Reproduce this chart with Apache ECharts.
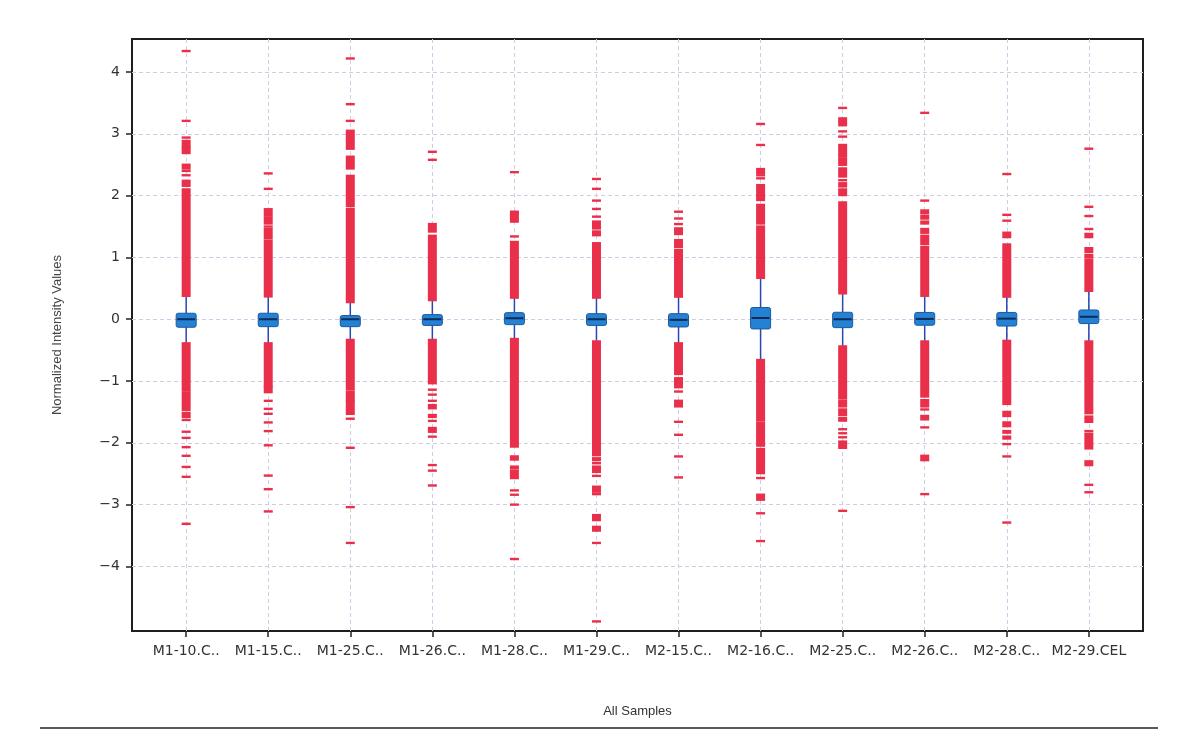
<!DOCTYPE html>
<html>
<head>
<meta charset="utf-8">
<title>All Samples</title>
<script src="https://cdn.jsdelivr.net/npm/echarts@6.0.0/dist/echarts.min.js"></script>
<style>
html, body {margin:0; padding:0; background:#fff;}
#chart {width:1200px; height:742px;}
</style>
</head>
<body>
<div id="chart"></div>
<script>
var categories = ['M1-10.C..','M1-15.C..','M1-25.C..','M1-26.C..','M1-28.C..','M1-29.C..','M2-15.C..','M2-16.C..','M2-25.C..','M2-26.C..','M2-28.C..','M2-29.CEL'];
var yTicks = [-4,-3,-2,-1,0,1,2,3,4];

/* box : whisker low, q1, median, q3, whisker high */
var whiskerLow  = [-0.39,-0.39,-0.33,-0.33,-0.31,-0.35,-0.39,-0.66,-0.44,-0.36,-0.35,-0.36];
var q1          = [-0.13,-0.12,-0.12,-0.10,-0.087,-0.10,-0.125,-0.157,-0.136,-0.097,-0.11,-0.07];
var median      = [0.0,0.0,0.0,0.0,0.016,0.0,-0.01,0.02,0.0,0.005,0.01,0.04];
var q3          = [0.097,0.097,0.06,0.075,0.107,0.09,0.09,0.19,0.113,0.11,0.11,0.15];
var whiskerHigh = [0.38,0.37,0.27,0.31,0.35,0.35,0.36,0.67,0.42,0.38,0.37,0.45];

/* outliers : single value = one dash, [lo, hi] = run of dashes */
var upperOutliers = [
    [4.34,3.21,2.94,[2.79,2.885],[2.69,2.77],[2.44,2.50],2.40,2.33,[2.16,2.24],[0.38,2.10]],
    [2.36,2.11,[1.69,1.78],[1.55,1.65],1.50,[1.31,1.46],[0.37,1.27]],
    [4.22,3.48,3.21,[2.90,3.05],[2.76,2.87],[2.44,2.63],[1.83,2.32],[0.28,1.78]],
    [2.71,2.58,[1.42,1.54],[0.31,1.35]],
    [2.38,[1.715,1.74],[1.58,1.69],1.34,[0.35,1.25]],
    [2.27,2.11,1.92,1.785,1.66,[1.47,1.58],[1.36,1.42],[0.35,1.23]],
    [1.74,1.63,1.54,[1.38,1.47],[1.17,1.28],[0.366,1.12]],
    [3.16,2.82,[2.37,2.43],2.33,2.28,[2.01,2.17],[1.93,1.98],[1.55,1.85],[0.67,1.50]],
    [3.42,[3.14,3.25],3.04,2.955,[2.63,2.82],[2.50,2.59],[2.31,2.44],2.25,[2.15,2.20],[2.01,2.10],[0.42,1.89]],
    [3.34,1.92,[1.715,1.76],[1.63,1.67],[1.55,1.58],[1.40,1.46],[1.22,1.35],[0.38,1.17]],
    [2.35,1.69,1.595,[1.33,1.40],[0.366,1.21]],
    [2.76,1.82,1.67,1.46,[1.33,1.38],[1.09,1.15],[1.00,1.04],[0.46,0.96]]
];
var lowerOutliers = [
    [[-1.155,-0.39],[-1.47,-1.19],[-1.58,-1.52],-1.63,-1.82,-1.92,-2.07,-2.21,-2.39,-2.55,-3.31],
    [[-1.08,-0.39],[-1.18,-1.10],-1.32,-1.45,-1.53,-1.67,-1.81,-2.04,-2.53,-2.75,-3.11],
    [[-1.13,-0.335],[-1.31,-1.17],[-1.50,-1.33],-1.53,-1.61,-2.08,-3.04,-3.62],
    [[-1.035,-0.335],-1.14,-1.22,-1.32,[-1.44,-1.39],[-1.58,-1.55],-1.645,[-1.82,-1.76],-1.90,-2.36,-2.45,-2.69],
    [[-1.52,-0.32],[-1.87,-1.55],[-2.06,-1.90],[-2.27,-2.22],[-2.41,-2.385],[-2.57,-2.45],-2.77,-2.84,-3.00,-3.88],
    [[-2.01,-0.36],[-2.20,-2.03],[-2.28,-2.25],-2.33,[-2.47,-2.385],-2.535,[-2.79,-2.71],-2.83,[-3.25,-3.17],[-3.42,-3.36],-3.62,-4.89],
    [[-0.885,-0.39],[-1.10,-0.955],-1.17,[-1.41,-1.32],-1.66,-1.87,-2.22,-2.56],
    [[-1.63,-0.66],[-2.045,-1.67],[-2.20,-2.10],[-2.30,-2.22],[-2.49,-2.33],-2.57,[-2.92,-2.84],-3.14,-3.59],
    [[-1.28,-0.44],[-1.41,-1.32],[-1.55,-1.46],[-1.64,-1.60],-1.78,-1.845,-1.91,[-2.08,-1.98],-3.10],
    [[-1.10,-0.36],[-1.25,-1.13],[-1.41,-1.31],-1.46,[-1.62,-1.565],-1.75,[-2.28,-2.21],-2.83],
    [[-1.37,-0.35],[-1.565,-1.50],[-1.73,-1.67],[-1.835,-1.81],[-1.93,-1.90],-2.02,-2.22,-3.29],
    [[-1.52,-0.36],[-1.66,-1.575],-1.81,[-2.09,-1.855],[-2.36,-2.30],-2.68,-2.80]
];

var RED = '#ea2f4b', GRID = '#cdcde6';

function buildBoxData(){
    var out = [];
    for(var i=0; i<categories.length; i++){
        out.push([i, whiskerLow[i], q1[i], median[i], q3[i], whiskerHigh[i]]);
    }
    return out;
}
function buildOutlierData(){
    var out = [], groups = [upperOutliers, lowerOutliers];
    for(var g=0; g<groups.length; g++){
        for(var i=0; i<groups[g].length; i++){
            groups[g][i].forEach(function(r){
                if(typeof r == 'number'){ out.push([i, r, r]); }
                else{ out.push([i, r[0], r[1]]); }
            });
        }
    }
    return out;
}

function renderBox(params, api){
    var x = api.value(0), w = 20;
    var pLo = api.coord([x, api.value(1)]);
    var pQ1 = api.coord([x, api.value(2)]);
    var pMed = api.coord([x, api.value(3)]);
    var pQ3 = api.coord([x, api.value(4)]);
    var pHi = api.coord([x, api.value(5)]);
    var wStyle = {stroke:'#2b47b5', lineWidth:1.5};
    return {
        type:'group',
        children:[
            {type:'line', shape:{x1:pLo[0], y1:pLo[1], x2:pQ1[0], y2:pQ1[1]}, style:wStyle},
            {type:'line', shape:{x1:pQ3[0], y1:pQ3[1], x2:pHi[0], y2:pHi[1]}, style:wStyle},
            {type:'rect', shape:{x:pQ3[0]-w/2, y:pQ3[1], width:w, height:pQ1[1]-pQ3[1], r:2}, style:{fill:'#2581d3', stroke:'#1a5a9c', lineWidth:1}},
            {type:'line', shape:{x1:pMed[0]-w/2+1, y1:pMed[1], x2:pMed[0]+w/2-1, y2:pMed[1]}, style:{stroke:'#0d2c58', lineWidth:2}}
        ]
    };
}

function renderRun(params, api){
    var x = api.value(0);
    var top = api.coord([x, api.value(2)]);
    var bot = api.coord([x, api.value(1)]);
    var h = Math.max(bot[1]-top[1], 0) + 2.4;
    return {type:'rect', shape:{x:top[0]-4.5, y:top[1]-1.2, width:9, height:h}, style:{fill:RED}};
}

var xTickValues = categories.map(function(c, i){ return i; });

var myChart = echarts.init(document.getElementById('chart'));
var option = {
    backgroundColor:'#fff',
    animation:false,
    grid:{left:132, top:39, right:57, bottom:111, show:true, borderColor:'#1e1e1e', borderWidth:2, backgroundColor:'transparent'},
    xAxis:{
        type:'value', min:-0.66, max:11.66, position:'bottom',
        name:'All Samples', nameLocation:'middle', nameGap:74,
        nameTextStyle:{color:'#333', fontFamily:'Liberation Sans', fontSize:13},
        axisLine:{show:false, onZero:false},
        axisTick:{show:true, length:6, customValues:xTickValues, lineStyle:{color:'#222', width:1.5}},
        axisLabel:{show:true, margin:13, customValues:xTickValues, color:'#333', fontFamily:'DejaVu Sans', fontSize:14,
            formatter:function(v){ return categories[Math.round(v)]; }},
        splitLine:{show:true, lineStyle:{color:GRID, type:[4,3], width:1}}
    },
    yAxis:{
        type:'value', min:-5.045, max:4.535, position:'left',
        name:'Normalized Intensity Values', nameLocation:'middle', nameGap:68,
        nameTextStyle:{color:'#444', fontFamily:'Liberation Sans', fontSize:13},
        axisLine:{show:false, onZero:false},
        axisTick:{show:true, length:6, customValues:yTicks, lineStyle:{color:'#222', width:1.5}},
        axisLabel:{show:true, margin:12, customValues:yTicks, color:'#333', fontFamily:'DejaVu Sans', fontSize:14,
            formatter:function(v){ return v<0 ? '\u2212'+Math.abs(v) : String(v); }},
        splitLine:{show:true, lineStyle:{color:GRID, type:[4,3], width:1}}
    },
    graphic:[
        {type:'line', shape:{x1:40, y1:728, x2:1158, y2:728}, style:{stroke:'#5a5a5a', lineWidth:2}}
    ],
    series:[
        {type:'custom', name:'box', renderItem:renderBox, data:buildBoxData(), encode:{x:0, y:[1,2,3,4,5]}, z:2},
        {type:'custom', name:'outliers', renderItem:renderRun, data:buildOutlierData(), encode:{x:0, y:[1,2]}, z:3}
    ]
};
myChart.setOption(option, true);
</script>
</body>
</html>
